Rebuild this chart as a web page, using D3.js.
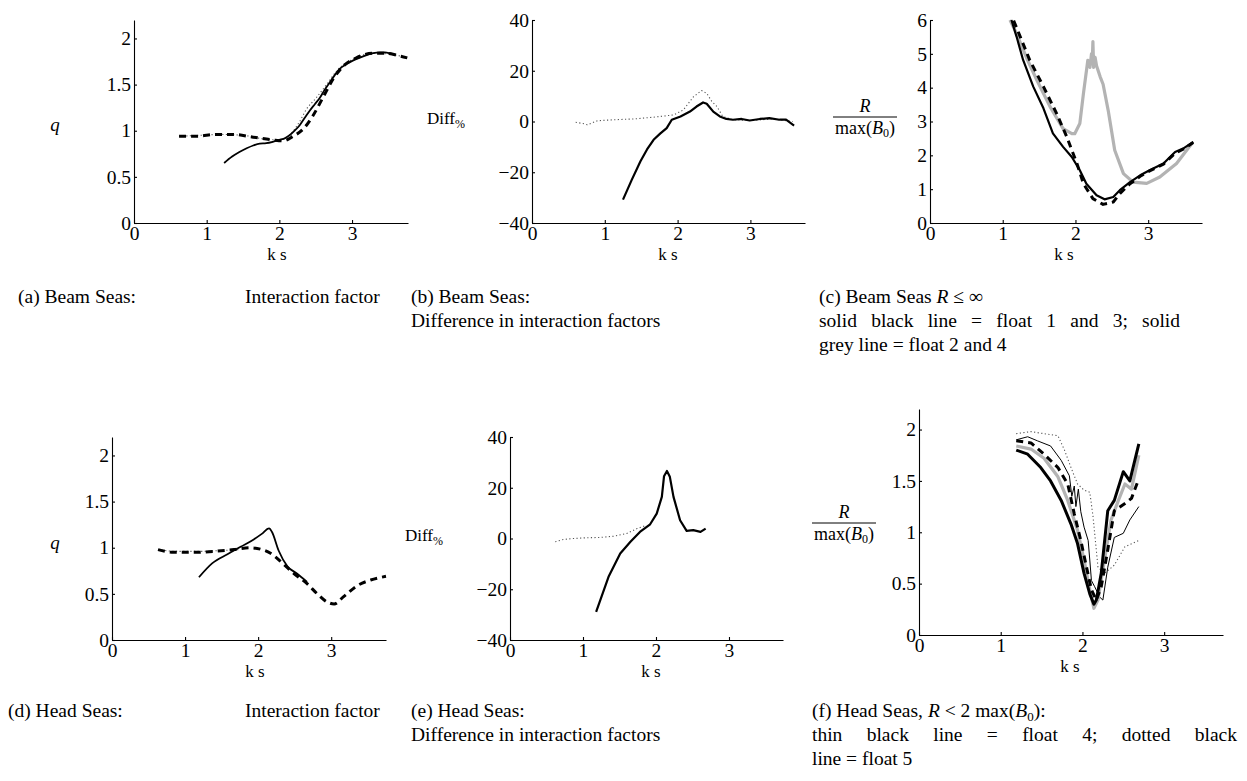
<!DOCTYPE html>
<html>
<head>
<meta charset="utf-8">
<script src="https://cdn.jsdelivr.net/npm/d3@7"></script>
<style>
  body { margin: 0; background: #fff; }
  text { font-family: "Liberation Serif", "Times New Roman", serif; fill: #000; }
</style>
</head>
<body>
<svg id="fig" width="1247" height="781"></svg>
<script>
// tick values
const ksTicks = [0, 1, 2, 3];
const qTicks = [0, 0.5, 1, 1.5, 2];
const diffTicks = [-40, -20, 0, 20, 40];
const rBeamTicks = [0, 1, 2, 3, 4, 5, 6];
const rHeadTicks = [0, 0.5, 1, 1.5, 2];

// (a) beam seas, interaction factor q vs k s
const beamQSolid = [[1.24,0.65],[1.35,0.72],[1.45,0.77],[1.55,0.81],[1.64,0.84],[1.73,0.86],[1.82,0.865],[1.91,0.88],[2.0,0.90],[2.08,0.92],[2.14,0.95],[2.21,1.0],[2.28,1.06],[2.35,1.14],[2.42,1.22],[2.49,1.29],[2.56,1.36],[2.62,1.44],[2.69,1.52],[2.76,1.60],[2.83,1.67],[2.92,1.72],[3.01,1.76],[3.1,1.79],[3.2,1.82],[3.29,1.84],[3.38,1.85],[3.45,1.85],[3.52,1.84],[3.6,1.82]];
const beamQDashed = [[0.62,0.94],[0.86,0.94],[1.13,0.96],[1.36,0.96],[1.64,0.93],[1.91,0.90],[2.05,0.89],[2.19,0.94],[2.33,1.02],[2.46,1.16],[2.6,1.36],[2.74,1.56],[2.88,1.70],[3.06,1.79],[3.29,1.84],[3.47,1.84],[3.66,1.81],[3.76,1.79]];
const beamQDotted = [[0.62,0.94],[0.9,0.95],[1.2,0.96],[1.5,0.95],[1.8,0.91],[2.0,0.90],[2.15,0.96],[2.28,1.1],[2.37,1.23],[2.5,1.35],[2.65,1.5],[2.8,1.66],[3.0,1.77],[3.3,1.84],[3.6,1.82],[3.76,1.79]];

// (b) beam seas, difference in %
const beamDiffSolid = [[1.25,-30.8],[1.37,-23],[1.49,-15.7],[1.58,-11],[1.67,-7.2],[1.76,-4.8],[1.85,-2.6],[1.92,0.7],[2.04,2.0],[2.17,3.9],[2.26,5.9],[2.35,7.5],[2.4,7.0],[2.49,3.9],[2.58,2.0],[2.67,1.0],[2.76,0.7],[2.88,1.0],[2.99,0.4],[3.13,1.0],[3.26,1.3],[3.4,0.7],[3.49,0.7],[3.6,-1.6]];
const beamDiffDotted = [[0.6,-0.3],[0.7,-0.8],[0.76,-1.3],[0.9,0.3],[1.13,0.7],[1.4,1.0],[1.67,1.7],[1.95,2.6],[2.08,4.6],[2.22,9.8],[2.33,12.2],[2.4,11.1],[2.47,7.9],[2.54,5.9],[2.62,2.0],[2.76,0.7],[3.0,0.4],[3.3,1.0],[3.58,0]];

// (c) beam seas, R / max(B0)
const beamRBlack = [[1.12,6.0],[1.19,5.51],[1.28,4.82],[1.42,4.03],[1.56,3.39],[1.69,2.65],[1.83,2.25],[1.95,1.95],[2.06,1.56],[2.15,1.16],[2.29,0.82],[2.4,0.70],[2.52,0.77],[2.61,0.97],[2.75,1.21],[2.89,1.41],[3.02,1.56],[3.21,1.76],[3.37,2.10],[3.48,2.20],[3.62,2.40]];
const beamRDashed = [[1.15,5.98],[1.24,5.51],[1.37,4.82],[1.56,4.03],[1.74,3.24],[1.88,2.55],[2.02,1.76],[2.11,1.16],[2.24,0.72],[2.38,0.55],[2.52,0.62],[2.61,0.87],[2.75,1.16],[2.89,1.38],[3.02,1.54],[3.21,1.74],[3.37,2.06],[3.48,2.18],[3.62,2.38]];
const beamRGrey = [[1.1,6.0],[1.19,5.6],[1.33,4.87],[1.47,4.22],[1.65,3.44],[1.83,2.79],[1.95,2.64],[1.99,2.64],[2.06,2.94],[2.11,3.83],[2.17,4.81],[2.2,4.6],[2.22,5.0],[2.23,4.7],[2.24,5.36],[2.25,4.6],[2.27,4.9],[2.29,4.65],[2.34,4.32],[2.38,4.1],[2.45,3.33],[2.54,2.15],[2.66,1.46],[2.79,1.21],[2.98,1.17],[3.16,1.36],[3.39,1.76],[3.6,2.35]];

// (d) head seas, interaction factor
const headQSolid = [[1.19,0.68],[1.37,0.83],[1.58,0.93],[1.76,1.01],[1.94,1.09],[2.05,1.15],[2.15,1.21],[2.19,1.17],[2.28,0.97],[2.4,0.80],[2.53,0.72],[2.67,0.63]];
const headQDashed = [[0.63,0.98],[0.84,0.95],[1.12,0.95],[1.39,0.96],[1.67,0.98],[1.89,1.0],[2.05,0.98],[2.17,0.94],[2.31,0.85],[2.49,0.72],[2.67,0.61],[2.81,0.50],[2.95,0.41],[3.04,0.39],[3.17,0.47],[3.36,0.59],[3.54,0.65],[3.75,0.69]];
const headQDotted = [[0.63,0.98],[0.9,0.96],[1.2,0.96],[1.5,0.97],[1.75,0.98]];

// (e) head seas, difference in %
const headDiffSolid = [[1.18,-28.9],[1.35,-15.1],[1.51,-5.9],[1.65,-1.3],[1.78,2.6],[1.92,5.6],[2.01,9.8],[2.08,16.4],[2.11,24.5],[2.15,26.6],[2.19,24.3],[2.24,16.4],[2.33,7.2],[2.42,3.0],[2.51,3.3],[2.61,2.6],[2.68,3.9]];
const headDiffDotted = [[0.62,-1.3],[0.73,-0.4],[0.87,0],[1.05,0.3],[1.23,0.4],[1.42,0.9],[1.6,2.0],[1.74,3.9],[1.85,5.0]];

// (f) head seas, R / max(B0), one line per float
const headRFloat1 = [[1.19,1.80],[1.33,1.76],[1.49,1.63],[1.61,1.50],[1.74,1.31],[1.86,1.08],[1.94,0.89],[2.02,0.60],[2.09,0.40],[2.14,0.30],[2.17,0.34],[2.23,0.60],[2.31,1.21],[2.39,1.31],[2.5,1.59],[2.58,1.50],[2.69,1.86]];
const headRFloat2 = [[1.19,1.84],[1.37,1.81],[1.53,1.72],[1.7,1.54],[1.82,1.31],[1.94,1.02],[2.02,0.73],[2.09,0.44],[2.14,0.26],[2.19,0.34],[2.27,0.73],[2.35,1.12],[2.44,1.31],[2.52,1.47],[2.6,1.42],[2.69,1.75]];
const headRFloat3 = [[1.19,1.89],[1.37,1.87],[1.53,1.76],[1.7,1.63],[1.82,1.47],[1.9,1.18],[1.98,0.92],[2.05,0.66],[2.11,0.44],[2.17,0.34],[2.23,0.47],[2.31,0.83],[2.39,1.21],[2.52,1.28],[2.6,1.33],[2.69,1.52]];
const headRFloat4 = [[1.19,1.90],[1.33,1.93],[1.45,1.89],[1.61,1.84],[1.74,1.70],[1.84,1.55],[1.87,1.35],[1.9,1.45],[1.92,1.25],[1.95,1.42],[1.98,1.2],[2.02,1.05],[2.07,0.92],[2.09,0.73],[2.11,0.53],[2.15,0.47],[2.21,0.37],[2.25,0.34],[2.31,0.66],[2.39,0.95],[2.5,0.99],[2.58,1.12],[2.69,1.25]];
const headRFloat5 = [[1.19,1.96],[1.37,1.98],[1.53,1.96],[1.7,1.94],[1.78,1.80],[1.86,1.63],[1.94,1.47],[2.02,1.41],[2.09,1.39],[2.13,1.15],[2.19,0.66],[2.27,0.60],[2.39,0.68],[2.52,0.86],[2.69,0.92]];

// line styles
const styles = {
  solid:  { stroke: "#000", width: 1.8, dash: null },
  medium: { stroke: "#000", width: 2.2, dash: null },
  thick:  { stroke: "#000", width: 3, dash: null },
  thin:   { stroke: "#000", width: 1.0, dash: null },
  dashed: { stroke: "#000", width: 3, dash: "7,5" },
  dotted: { stroke: "#555", width: 1.1, dash: "1.2,2.4" },
  grey:   { stroke: "#b3b3b3", width: 3.2, dash: null }
};

const panels = [
  { x0: 134, x1: 408, y0: 20, y1: 223, xMax: 3.77, yDom: [0, 2.2], yTicks: qTicks, labelX: 277, smooth: true,
    series: [[beamQDotted, "dotted"], [beamQDashed, "dashed"], [beamQSolid, "solid"]] },
  { x0: 532, x1: 805, y0: 20, y1: 223, xMax: 3.75, yDom: [-40, 40], yTicks: diffTicks, labelX: 668, smooth: false,
    series: [[beamDiffDotted, "dotted"], [beamDiffSolid, "medium"]] },
  { x0: 930, x1: 1202, y0: 20, y1: 223, xMax: 3.74, yDom: [0, 6], yTicks: rBeamTicks, labelX: 1064, smooth: false,
    series: [[beamRGrey, "grey"], [beamRDashed, "dashed"], [beamRBlack, "medium"]] },
  { x0: 112, x1: 386, y0: 437, y1: 640, xMax: 3.75, yDom: [0, 2.2], yTicks: qTicks, labelX: 255, smooth: true,
    series: [[headQDotted, "dotted"], [headQDashed, "dashed"], [headQSolid, "solid"]] },
  { x0: 510, x1: 783, y0: 437, y1: 640, xMax: 3.74, yDom: [-40, 40], yTicks: diffTicks, labelX: 651, smooth: false,
    series: [[headDiffDotted, "dotted"], [headDiffSolid, "medium"]] },
  { x0: 919, x1: 1223, y0: 409, y1: 635, xMax: 3.72, yDom: [0, 2.2], yTicks: rHeadTicks, labelX: 1070, smooth: false,
    series: [[headRFloat5, "dotted"], [headRFloat4, "thin"], [headRFloat2, "grey"], [headRFloat3, "dashed"], [headRFloat1, "thick"]] }
];

const svg = d3.select("#fig");
const fmt = d3.format("~g");

panels.forEach(p => {
  const x = d3.scaleLinear().domain([0, p.xMax]).range([p.x0, p.x1]);
  const y = d3.scaleLinear().domain(p.yDom).range([p.y1, p.y0]);
  const g = svg.append("g");

  g.append("g")
    .attr("transform", `translate(0,${p.y1})`)
    .call(d3.axisBottom(x).tickValues(ksTicks).tickFormat(fmt).tickSizeInner(-3).tickSizeOuter(0).tickPadding(3))
    .call(a => a.selectAll("text").attr("font-size", 19.5).attr("font-family", "Liberation Serif"));

  g.append("g")
    .attr("transform", `translate(${p.x0},0)`)
    .call(d3.axisLeft(y).tickValues(p.yTicks).tickFormat(fmt).tickSizeInner(-3).tickSizeOuter(0).tickPadding(3))
    .call(a => a.selectAll("text").attr("font-size", 19.5).attr("font-family", "Liberation Serif"));

  g.selectAll(".domain, .tick line").attr("stroke", "#000").attr("stroke-width", 1.1);

  const line = d3.line()
    .x(d => x(d[0]))
    .y(d => y(d[1]))
    .curve(p.smooth ? d3.curveMonotoneX : d3.curveLinear);

  p.series.forEach(([data, key]) => {
    const s = styles[key];
    g.append("path")
      .attr("d", line(data))
      .attr("fill", "none")
      .attr("stroke", s.stroke)
      .attr("stroke-width", s.width)
      .attr("stroke-dasharray", s.dash)
      .attr("stroke-linejoin", "round");
  });

  g.append("text")
    .attr("x", p.labelX).attr("y", p.y1 + 37)
    .attr("text-anchor", "middle")
    .attr("font-size", 17)
    .text("k s");
});

// y axis labels
function qLabel(yy) {
  svg.append("text").attr("x", 55).attr("y", yy).attr("text-anchor", "middle")
    .attr("font-size", 19).attr("font-style", "italic").text("q");
}
qLabel(131);
qLabel(549);

function diffLabel(xx, yy) {
  const t = svg.append("text").attr("x", xx).attr("y", yy).attr("font-size", 17);
  t.append("tspan").text("Diff");
  t.append("tspan").attr("font-size", 12).attr("dy", 4).text("%");
}
diffLabel(427, 124);
diffLabel(405, 541);

function fracLabel(cx, barY) {
  svg.append("text").attr("x", cx).attr("y", barY - 5).attr("text-anchor", "middle")
    .attr("font-size", 18).attr("font-style", "italic").text("R");
  svg.append("line").attr("x1", cx - 32).attr("x2", cx + 32).attr("y1", barY).attr("y2", barY)
    .attr("stroke", "#000").attr("stroke-width", 1);
  const t = svg.append("text").attr("x", cx).attr("y", barY + 17).attr("text-anchor", "middle").attr("font-size", 18);
  t.append("tspan").text("max(");
  t.append("tspan").attr("font-style", "italic").text("B");
  t.append("tspan").attr("font-size", 12).attr("dy", 3).text("0");
  t.append("tspan").attr("dy", -3).text(")");
}
fracLabel(865, 117);
fracLabel(844, 523);

// captions
const capSize = 19.5;
function cap(xx, yy, str) {
  return svg.append("text").attr("x", xx).attr("y", yy).attr("font-size", capSize).text(str);
}
// justified caption line: words spread across the given width
function capJustified(xx, yy, str, width) {
  const words = str.split(" ");
  const t = svg.append("text").attr("y", yy).attr("font-size", capSize);
  const spans = words.map(w => t.append("tspan").text(w));
  const widths = spans.map(s => s.node().getComputedTextLength());
  const gap = (width - d3.sum(widths)) / (words.length - 1);
  let cx = xx;
  spans.forEach((s, i) => { s.attr("x", cx); cx += widths[i] + gap; });
}
cap(18, 303, "(a) Beam Seas:");
cap(245, 303, "Interaction factor");
cap(411, 303, "(b) Beam Seas:");
cap(411, 327, "Difference in interaction factors");
const cc = svg.append("text").attr("x", 819).attr("y", 303).attr("font-size", capSize);
cc.append("tspan").text("(c) Beam Seas ");
cc.append("tspan").attr("font-style", "italic").text("R");
cc.append("tspan").text(" \u2264 \u221E");
capJustified(819, 327, "solid black line = float 1 and 3; solid", 361);
cap(819, 351, "grey line = float 2 and 4");

cap(8, 717, "(d) Head Seas:");
cap(245, 717, "Interaction factor");
cap(411, 717, "(e) Head Seas:");
cap(411, 741, "Difference in interaction factors");
const cf = svg.append("text").attr("x", 812).attr("y", 717).attr("font-size", capSize);
cf.append("tspan").text("(f) Head Seas, ");
cf.append("tspan").attr("font-style", "italic").text("R");
cf.append("tspan").text(" < 2 max(");
cf.append("tspan").attr("font-style", "italic").text("B");
cf.append("tspan").attr("font-size", 13).attr("dy", 4).text("0");
cf.append("tspan").attr("dy", -4).text("):");
capJustified(812, 741, "thin black line = float 4; dotted black", 425);
cap(812, 765, "line = float 5");
</script>
</body>
</html>
